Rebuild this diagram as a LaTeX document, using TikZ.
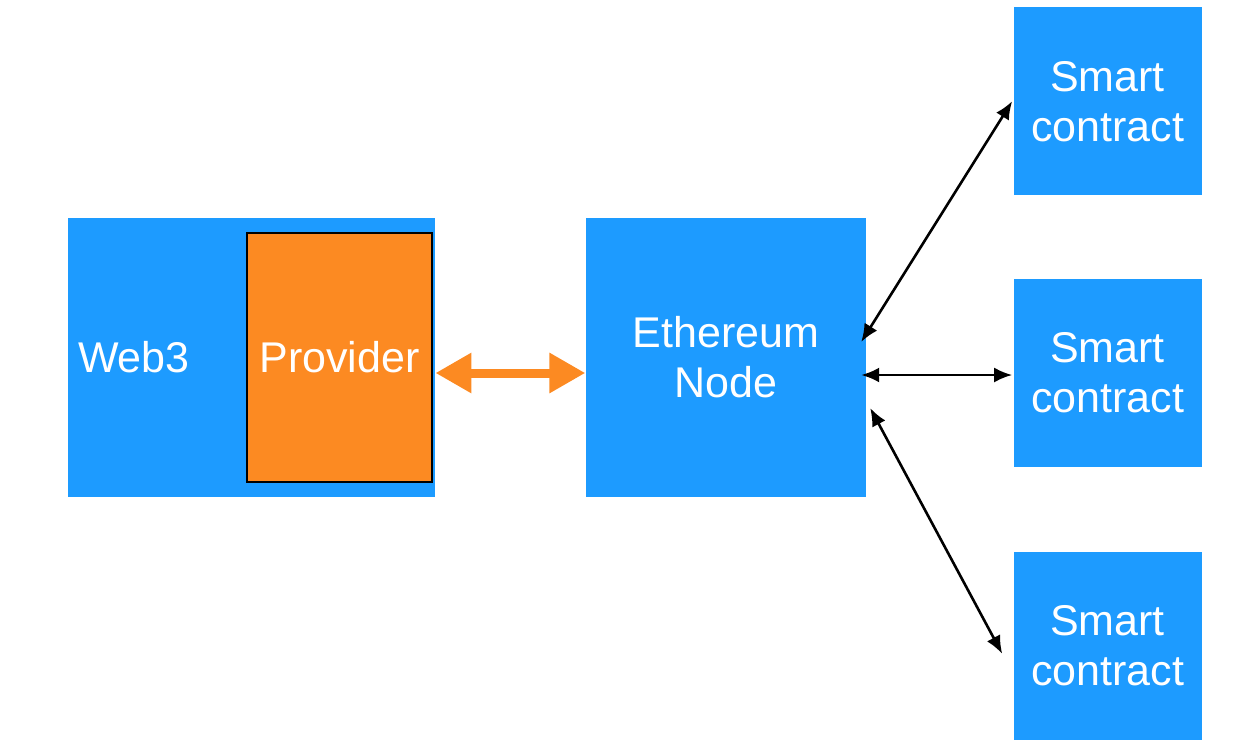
\documentclass[tikz,border=0pt]{standalone}
\usepackage{fontspec}
\setsansfont{Liberation Sans}
\usetikzlibrary{
	arrows.meta,
	positioning,
}
\definecolor{MyBlue}{HTML}{1D9BFF}
\definecolor{MyOrange}{HTML}{FC8A22}
\tikzset{every picture/.style={/utils/exec={\sffamily}}}

\begin{document}
\begin{tikzpicture} [
			every node/.style={align=center,rectangle,inner sep=0pt},
			box/.style={fill=MyBlue,text=white,font=\fontsize{21.5}{25}\selectfont},
			contract/.style={box,minimum width=94pt,minimum height=94pt},
			link/.style={{Latex[length=9pt,width=7.5pt]}-{Latex[length=9pt,width=7.5pt]},draw,line width=1.3pt}
		]
		\useasboundingbox (0,0) rectangle (622pt,-375pt);

		\node [box,minimum width=183.5pt,minimum height=139.5pt] (web3) at (125.75pt,-178.75pt) {};
		\node [box,right=5pt of web3.west] (web3text) {Web3};
		\node [box,fill=MyOrange,draw=black,line width=1.3pt,minimum width=92.5pt,minimum height=124.5pt,left=1pt of web3.east] (provider) {Provider};

		\node [box,minimum width=140pt,minimum height=139.5pt,right=75pt of web3] (eth) {
			Ethereum \\
			Node
		};

		\node [contract,right=73.5pt of eth,yshift=-7.75pt] (sc2) {Smart \\ contract};
		\node [contract,above=41.5pt of sc2] (sc1) {Smart \\ contract};
		\node [contract,below=42pt of sc2] (sc3) {Smart \\ contract};

		\path[{Triangle[length=18pt,width=19pt]}-{Triangle[length=18pt,width=19pt]},draw,MyOrange,line width=4.5pt] ([yshift=-7.75pt]web3.east) -- ([yshift=-7.75pt]eth.west);
		\path[link] ([xshift=-2.5pt,yshift=7.75pt]eth.east) -- ([xshift=-0.5pt]sc1.west);
		\path[link] ([xshift=-2.5pt,yshift=-8.75pt]eth.east) -- ([xshift=-0.5pt,yshift=-1pt]sc2.west);
		\path[link] ([xshift=2pt,yshift=-25.25pt]eth.east) -- ([xshift=-5.5pt,yshift=-4pt]sc3.west);
	\end{tikzpicture}
\end{document}
